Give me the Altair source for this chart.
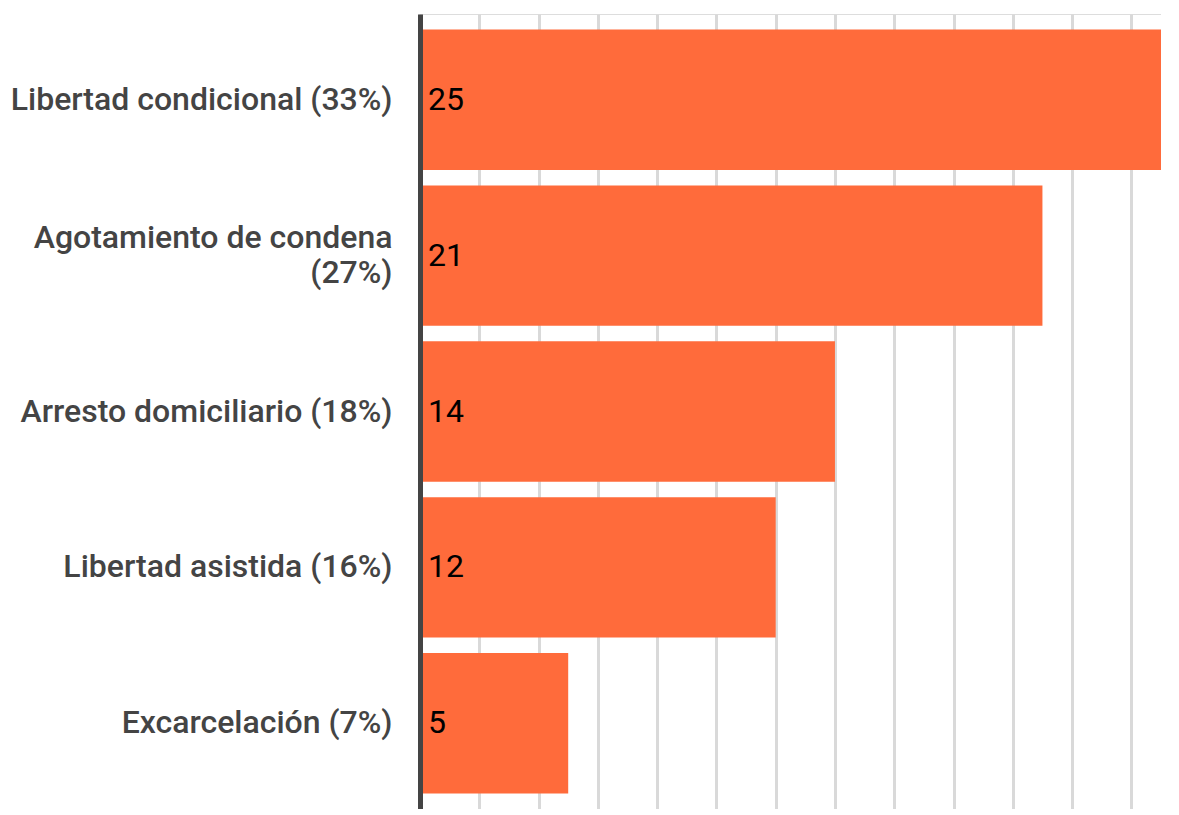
import altair as alt
import pandas as pd

categories = [
    "Libertad condicional (33%)",
    "Agotamiento de condena|(27%)",
    "Arresto domiciliario (18%)",
    "Libertad asistida (16%)",
    "Excarcelación (7%)",
]
values = [25, 21, 14, 12, 5]
grid_values = list(range(0, 26, 2))

df = pd.DataFrame({"cat": categories, "val": values})

y_enc = alt.Y(
    "cat:N",
    sort=categories,
    title=None,
    scale=alt.Scale(paddingInner=0.1, paddingOuter=0.1),
    axis=alt.Axis(
        labelExpr="split(datum.value, '|')",
        labelFont="Roboto",
        labelFontSize=32,
        labelFontWeight=500,
        labelColor="#444444",
        labelPadding=28,
        labelLineHeight=35,
        labelLimit=420,
        labelOffset={
            "condition": {"test": "indexof(datum.value, '|') >= 0", "value": -18},
            "value": 0,
        },
        ticks=False,
        domainColor="#444444",
        domainWidth=5,
        grid=False,
        zindex=1,
    ),
)

x_enc = alt.X(
    "val:Q",
    title=None,
    scale=alt.Scale(domain=[0, 25], nice=False),
    axis=alt.Axis(
        values=grid_values,
        labels=False,
        ticks=False,
        domain=False,
        grid=True,
        gridColor="#d9d9d9",
        gridWidth=3,
    ),
)

bars = alt.Chart(df).mark_bar(color="#FF6B3B").encode(x=x_enc, y=y_enc)

text = alt.Chart(df).mark_text(
    align="left", baseline="middle", dx=8, font="Roboto", fontSize=32,
    fontWeight="normal", color="#000000"
).encode(
    x=alt.datum(0),
    y=alt.Y("cat:N", sort=categories),
    text="val:Q",
)

chart = (
    alt.layer(bars, text)
    .properties(
        width=741,
        height=795,
        autosize=alt.AutoSizeParams(type="none"),
        padding={"left": 412, "top": 6, "right": 0, "bottom": 0},
    )
    .configure_view(stroke=None)
    .configure(background="white")
)

chart.save("out.html", embed_options={"renderer": "svg", "actions": False})
